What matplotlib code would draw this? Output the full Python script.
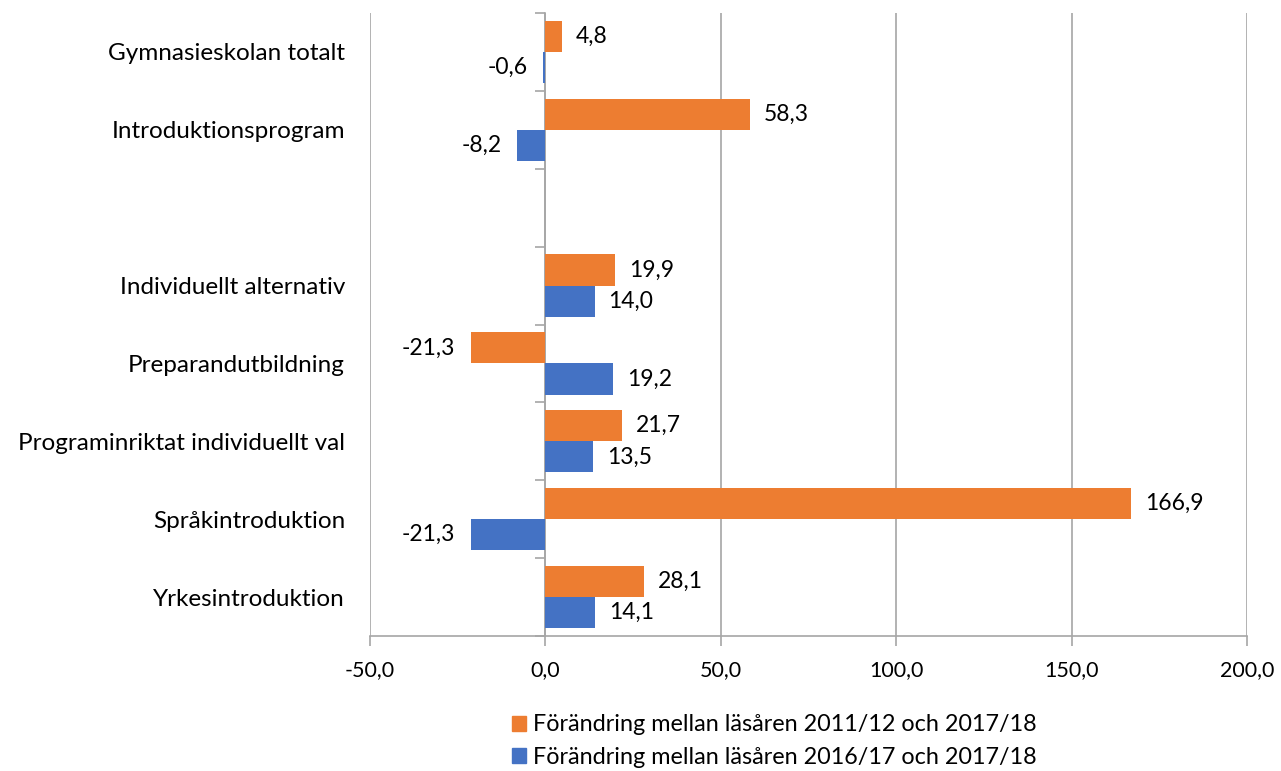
import numpy as np
import matplotlib
matplotlib.use("Agg")
import matplotlib.pyplot as plt
from matplotlib.patches import Patch

plt.rcParams['font.family'] = ['Lato', 'DejaVu Sans']

categories = ["Gymnasieskolan totalt", "Introduktionsprogram", "",
              "Individuellt alternativ", "Preparandutbildning",
              "Programinriktat individuellt val", "Språkintroduktion",
              "Yrkesintroduktion"]
series1_name = "Förändring mellan läsåren 2011/12 och 2017/18"
series2_name = "Förändring mellan läsåren 2016/17 och 2017/18"
series1 = [4.8, 58.3, np.nan, 19.9, -21.3, 21.7, 166.9, 28.1]
series2 = [-0.6, -8.2, np.nan, 14.0, 19.2, 13.5, -21.3, 14.1]
xticks = [-50, 0, 50, 100, 150, 200]

orange = "#ED7D31"
blue = "#4472C4"
grid_c = "#A6A6A6"

fig = plt.figure(figsize=(12.81, 7.71), dpi=100)
ax = fig.add_axes([370/1281, 1-636/771, (1247-370)/1281, (636-13)/771])

n = len(categories)
y = np.arange(n)
h = 0.4
b1 = ax.barh(y - h/2, series1, height=h, color=orange)
b2 = ax.barh(y + h/2, series2, height=h, color=blue)

def fmt(v):
    return f"{v:.1f}".replace(".", ",")

for bars, vals in ((b1, series1), (b2, series2)):
    for rect, v in zip(bars, vals):
        if np.isnan(v):
            continue
        yc = rect.get_y() + rect.get_height()/2
        if v >= 0:
            ax.annotate(fmt(v), (v, yc), xytext=(10, 0), textcoords="offset points",
                        ha="left", va="center", fontsize=16.5)
        else:
            ax.annotate(fmt(v), (v, yc), xytext=(-11, 0), textcoords="offset points",
                        ha="right", va="center", fontsize=16.5)

ax.set_xlim(-50, 200)
ax.set_ylim(n - 0.5, -0.5)
ax.set_xticks(xticks)
ax.set_xticklabels([fmt(t) for t in xticks], fontsize=15.5)
ax.set_yticks(y)
ax.set_yticklabels(categories, fontsize=17.5)
ax.tick_params(axis="y", length=0, pad=18)
ax.tick_params(axis="x", length=7, color=grid_c, width=1.2, pad=10)
ax.xaxis.grid(True, color=grid_c, linewidth=1.2)
ax.set_axisbelow(True)
for s in ("top", "right", "left"):
    ax.spines[s].set_visible(False)
ax.spines["bottom"].set_color(grid_c)
ax.spines["bottom"].set_linewidth(1.2)

# zero axis with category boundary ticks
sec = ax.secondary_yaxis(0.2)
sec.set_yticks(np.arange(n + 1) - 0.5)
sec.set_yticklabels([])
sec.tick_params(axis="y", length=7, color=grid_c, width=1.2, direction="out")
sec.spines["left"].set_color(grid_c)
sec.spines["left"].set_linewidth(1.2)

handles = [Patch(color=orange), Patch(color=blue)]
fig.legend(handles, [series1_name, series2_name], loc="upper left",
           bbox_to_anchor=(503/1281, 1-705/771), frameon=False, fontsize=16.8,
           handlelength=0.6, handleheight=0.6, handletextpad=0.3,
           labelspacing=0.5, borderaxespad=0)

fig.savefig("out.png", dpi=100)
